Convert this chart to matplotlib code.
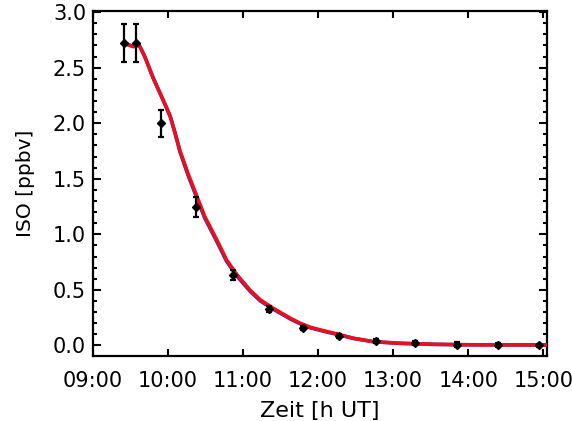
import matplotlib
matplotlib.use("Agg")
import matplotlib.pyplot as plt
from matplotlib.ticker import MultipleLocator

# Measurements (time in decimal hours UT)
obs_time = [9.41, 9.57, 9.90, 10.37, 10.86, 11.35, 11.80, 12.28, 12.77, 13.29, 13.85, 14.40, 14.95]
obs_iso = [2.72, 2.72, 2.00, 1.25, 0.635, 0.33, 0.155, 0.085, 0.04, 0.02, 0.008, 0.003, 0.002]
obs_err = [0.17, 0.17, 0.12, 0.09, 0.045, 0.025, 0.02, 0.02, 0.02, 0.02, 0.02, 0.015, 0.015]

# Model curves
model_time = [9.41, 9.54, 9.61, 9.69, 9.80, 9.94, 10.03, 10.09, 10.16, 10.27, 10.38,
              10.49, 10.65, 10.78, 10.92, 11.09, 11.23, 11.40, 11.63, 11.76, 11.89,
              12.03, 12.12, 12.25, 12.47, 12.74, 13.09, 13.54, 14.00, 14.50, 15.05]
model_red = [2.72, 2.69, 2.71, 2.60, 2.41, 2.20, 2.06, 1.92, 1.75, 1.54, 1.35,
             1.16, 0.95, 0.77, 0.635, 0.50, 0.41, 0.335, 0.245, 0.20, 0.165,
             0.14, 0.125, 0.104, 0.065, 0.034, 0.02, 0.01, 0.006, 0.005, 0.005]
model_blue = [2.72, 2.69, 2.71, 2.60, 2.41, 2.20, 2.06, 1.92, 1.74, 1.525, 1.335,
              1.145, 0.935, 0.757, 0.622, 0.49, 0.40, 0.327, 0.238, 0.195, 0.16,
              0.135, 0.12, 0.10, 0.063, 0.033, 0.019, 0.01, 0.006, 0.005, 0.005]

xticks = [9, 10, 11, 12, 13, 14, 15]
xtick_labels = ["09:00", "10:00", "11:00", "12:00", "13:00", "14:00", "15:00"]
yticks = [0.0, 0.5, 1.0, 1.5, 2.0, 2.5, 3.0]

plt.rcParams['font.family'] = ['DejaVu Sans']

fig = plt.figure(figsize=(5.72, 4.21), dpi=100)
ax = fig.add_axes([93/572, 65/421, 454/572, 345/421])

ax.plot(model_time, model_blue, color='#3a2bd0', lw=2.6, zorder=2)
ax.plot(model_time, model_red, color='#e8101c', lw=2.6, zorder=3)
ax.errorbar(obs_time, obs_iso, yerr=obs_err, fmt='D', color='black', ms=4.5,
            elinewidth=1.6, capsize=2.2, capthick=1.6, zorder=4)

ax.set_xlim(9.0, 15.05)
ax.set_ylim(-0.095, 3.01)
ax.set_xticks(xticks)
ax.set_xticklabels(xtick_labels)
ax.set_yticks(yticks)
ax.set_yticklabels([f"{v:.1f}" for v in yticks])
ax.yaxis.set_minor_locator(MultipleLocator(0.1))

ax.tick_params(axis='both', which='both', direction='in', top=True, right=True,
               width=1.5, labelsize=15)
ax.tick_params(axis='x', which='major', length=5, pad=11)
ax.tick_params(axis='y', which='major', length=5.5, pad=5)
ax.tick_params(axis='y', which='minor', length=3)
for s in ax.spines.values():
    s.set_linewidth(1.6)

ax.set_xlabel("Zeit [h UT]", fontsize=16, labelpad=7)
ax.set_ylabel("ISO [ppbv]", fontsize=14.5, labelpad=13)

fig.savefig("out.png", dpi=100)
